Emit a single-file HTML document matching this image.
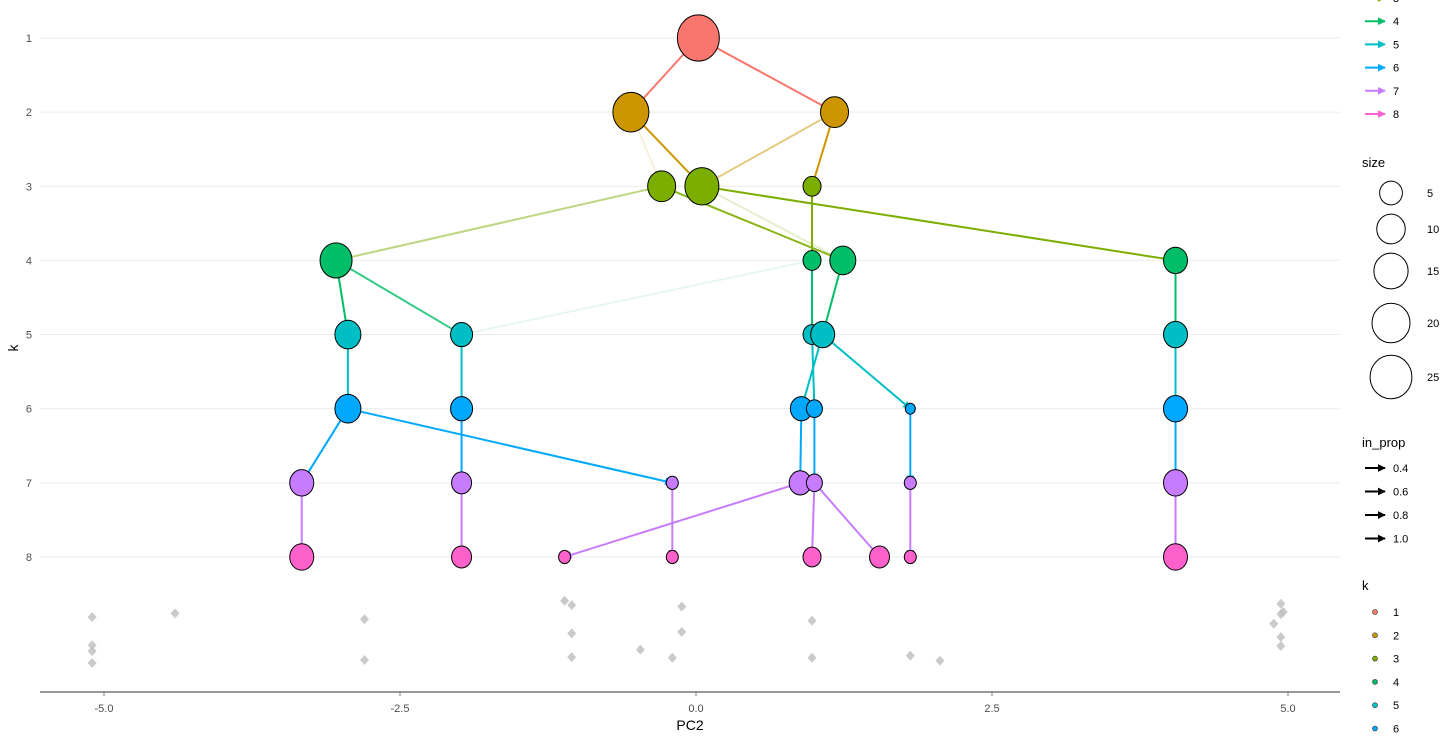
<!DOCTYPE html>
<html><head><meta charset="utf-8"><style>
body{margin:0;background:#fff;font-family:"Liberation Sans",sans-serif}
svg text{font-family:"Liberation Sans",sans-serif}
</style></head><body>
<svg id="c" width="1456" height="741"></svg>
<script>
const colors=["#F8766D","#CD9600","#7CAE00","#00BE67","#00BFC4","#00A9FF","#C77CFF","#FF61CC"];
const nodeK=[1,2,2,3,3,3,4,4,4,4,5,5,5,5,5,6,6,6,6,6,6,7,7,7,7,7,7,7,8,8,8,8,8,8,8,8];
const nodeX=[0.02,-0.55,1.17,-0.29,0.05,0.98,-3.04,0.98,1.24,4.05,-2.94,-1.98,0.98,1.07,4.05,-2.94,-1.98,0.89,1.0,1.81,4.05,-3.33,-1.98,-0.2,0.88,1.0,1.81,4.05,-3.33,-1.98,-1.11,-0.2,0.98,1.55,1.81,4.05];
const nodeR=[21,18,14,14,17,9,16,9,13,12,13,11,9,12,12,13,11,11,8,5,12,12,10,6,11,8,6,12,12,10,6,6,9,10,6,12];
const edgeFrom=[0,0,1,1,2,2,3,3,4,4,5,6,6,7,7,8,9,10,11,13,12,13,14,15,15,16,17,18,19,20,21,22,24,23,25,25,26,27];
const edgeTo=[1,2,3,4,4,5,6,8,9,8,7,10,11,11,12,13,14,15,16,17,18,19,20,21,23,22,24,25,26,27,28,29,30,31,32,33,34,35];
const edgeProp=[1,1,0.15,1,0.5,1,0.5,0.9,1,0.2,1,1,0.8,0.1,1,1,1,1,1,1,1,1,1,1,1,1,1,1,1,1,1,1,1,1,1,1,1,1];
const bgX=[-5.1,-5.1,-5.1,-5.1,-4.4,-2.8,-2.8,-1.11,-1.05,-1.05,-1.05,-0.47,-0.2,-0.12,-0.12,0.98,0.98,1.81,2.06,4.94,4.94,4.88,4.94,4.94,4.96];
const bgK=[8.81,9.19,9.27,9.43,8.76,8.84,9.39,8.59,8.65,9.03,9.35,9.25,9.36,8.67,9.01,8.86,9.36,9.33,9.4,8.63,8.77,8.9,9.08,9.2,8.74];
const xTicks=[-5,-2.5,0,2.5,5];
const xTickLabels=["-5.0","-2.5","0.0","2.5","5.0"];
const yTicks=[1,2,3,4,5,6,7,8];
const sizeLegend=[5,10,15,20,25];
const propLegend=["0.4","0.6","0.8","1.0"];
const X=v=>696+v*118.4, Y=k=>38+(k-1)*74.14;
const svg=document.getElementById('c'),NS="http://www.w3.org/2000/svg";
function mk(t,a,p){const e=document.createElementNS(NS,t);for(const k in a)e.setAttribute(k,a[k]);(p||svg).appendChild(e);return e;}
const defs=mk('defs',{});
colors.forEach((c,i)=>{const m=mk('marker',{id:'a'+i,viewBox:'0 0 10 10',refX:'9',refY:'5',markerWidth:'4',markerHeight:'4',orient:'auto'},defs);mk('path',{d:'M0,0L10,5L0,10z',fill:c},m);});
const mb=mk('marker',{id:'ab',viewBox:'0 0 10 10',refX:'9',refY:'5',markerWidth:'4',markerHeight:'4',orient:'auto'},defs);mk('path',{d:'M0,0L10,5L0,10z',fill:'#000'},mb);
yTicks.forEach(k=>{let l=mk('line',{x1:40,x2:1340,y1:Y(k),y2:Y(k),stroke:'#ebebeb','stroke-width':1});

let t=mk('text',{x:32,y:Y(k)+4,'font-size':11,fill:'#4d4d4d','text-anchor':'end'});t.textContent=k;
});
let ax=mk('line',{x1:40,x2:1340,y1:692,y2:692,stroke:'#777','stroke-width':1.5});

xTicks.forEach((v,i)=>{mk('line',{x1:X(v),x2:X(v),y1:692,y2:696,stroke:'#777'});
let t=mk('text',{x:X(v),y:712,'font-size':11,fill:'#4d4d4d','text-anchor':'middle'});t.textContent=xTickLabels[i];
});
let xt=mk('text',{x:690,y:730,'font-size':14,fill:'#000','text-anchor':'middle'});xt.textContent='PC2';

let yt=mk('text',{x:18,y:348,'font-size':14,fill:'#000','text-anchor':'middle',transform:'rotate(-90 18 348)'});yt.textContent='k';

bgX.forEach((v,i)=>{const x=X(v),y=Y(bgK[i]);let p=mk('path',{d:`M${x},${y-5}L${x+4.5},${y}L${x},${y+5}L${x-4.5},${y}Z`,fill:'#bdbdbd','fill-opacity':0.8});
});
edgeFrom.forEach((f,i)=>{const t=edgeTo[i],ci=nodeK[f]-1;let l=mk('line',{x1:X(nodeX[f]),y1:Y(nodeK[f]),x2:X(nodeX[t]),y2:Y(nodeK[t]),stroke:colors[ci],'stroke-width':2,'stroke-opacity':edgeProp[i],'marker-end':'url(#a'+ci+')'});
});
nodeX.forEach((v,i)=>{let c=mk('ellipse',{cx:X(v),cy:Y(nodeK[i]),rx:nodeR[i],ry:nodeR[i]*1.1,fill:colors[nodeK[i]-1],stroke:'#000','stroke-width':1});
});
function txt(x,y,s,fs,name){let t=mk('text',{x:x,y:y,'font-size':fs,fill:'#000'});t.textContent=s;return t;}
[3,4,5,6,7,8].forEach((k,i)=>{const y=-2+i*23.2;mk('line',{x1:1365,x2:1385,y1:y,y2:y,stroke:colors[k-1],'stroke-width':2,'marker-end':'url(#a'+(k-1)+')'});txt(1393,y+4,String(k),11,'legend-colour-entry');});
txt(1362,167,'size',13,'legend-size-title');
const sy=[193,229,271,323,377],sr=[12,15,18,20,22];
sizeLegend.forEach((s,i)=>{mk('ellipse',{cx:1391,cy:sy[i],rx:sr[i]*0.95,ry:sr[i]*0.99,fill:'none',stroke:'#000'});txt(1427,sy[i]+4,String(s),11,'legend-size-entry');});
txt(1362,447,'in_prop',13,'legend-inprop-title');
propLegend.forEach((s,i)=>{const y=468+i*23.5;mk('line',{x1:1365,x2:1385,y1:y,y2:y,stroke:'#000','stroke-width':2,'marker-end':'url(#ab)'});txt(1393,y+4,s,11,'legend-inprop-entry');});
txt(1362,590,'k',13,'legend-k-title');
[1,2,3,4,5,6].forEach((k,i)=>{const y=612+i*23.3;mk('circle',{cx:1375,cy:y,r:2.5,fill:colors[k-1],stroke:'#333','stroke-width':0.6});txt(1393,y+4,String(k),11,'legend-k-entry');});
</script></body></html>
